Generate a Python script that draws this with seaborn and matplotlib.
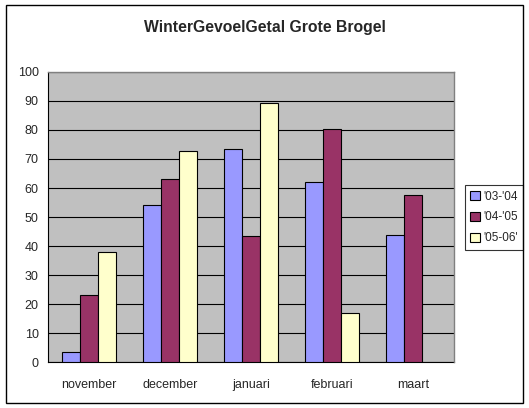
import matplotlib.pyplot as plt
import seaborn as sns
import numpy as np
import pandas as pd
from matplotlib.patches import Rectangle

months = ['november', 'december', 'januari', 'februari', 'maart']
seasons = ["'03-'04", "'04-'05", "'05-06'"]
s0304 = [3.4, 54.2, 73.5, 62.1, 43.9]
s0405 = [23.0, 63.2, 43.6, 80.3, 57.7]
s0506 = [38.1, 72.8, 89.2, 17.0, np.nan]
colors = ['#9999FF', '#993366', '#FFFFCC']

df = pd.DataFrame({
    'maand': months * 3,
    'seizoen': [s for s in seasons for _ in months],
    'wgg': s0304 + s0405 + s0506,
})

sns.set_style('white')
plt.rcParams['font.family'] = ['Liberation Sans', 'DejaVu Sans']

fig = plt.figure(figsize=(5.29, 4.08), dpi=100)
ax = fig.add_axes([0.0915, 0.112, 0.766, 0.712])
ax.set_facecolor('#C0C0C0')

sns.barplot(data=df, x='maand', y='wgg', hue='seizoen', order=months,
            hue_order=seasons, palette=colors, saturation=1, width=0.675, gap=0,
            edgecolor='black', linewidth=0.8, errorbar=None, ax=ax, zorder=3)

ax.set_ylim(0, 100)
ax.set_xlim(-0.5, 4.5)
ax.set_yticks(np.arange(0, 101, 10))
ax.yaxis.grid(True, color='black', linewidth=0.8, zorder=0)
ax.set_axisbelow(True)
ax.set_xlabel('')
ax.set_ylabel('')

# Excel style: tick marks between categories
ax.set_xticks(np.arange(-0.5, 5, 1), minor=True)
ax.tick_params(axis='x', which='major', length=0, pad=12, labelsize=9)
ax.tick_params(axis='x', which='minor', length=6, direction='out', width=0.8, color='black')
ax.tick_params(axis='y', length=5, direction='out', width=0.8, color='black', labelsize=9, pad=2)

for side in ['top', 'right']:
    ax.spines[side].set_color('#808080')
    ax.spines[side].set_linewidth(1)
    ax.spines[side].set_zorder(4)
for side in ['left', 'bottom']:
    ax.spines[side].set_color('black')
    ax.spines[side].set_linewidth(0.8)

fig.text(0.5, 0.932, 'WinterGevoelGetal Grote Brogel', ha='center', va='center',
         fontsize=11.3, fontweight='bold')

handles, labels = ax.get_legend_handles_labels()
leg = ax.legend(handles, labels, loc='center left', bbox_to_anchor=(0.879, 0.467),
                bbox_transform=fig.transFigure, frameon=True, fancybox=False,
                fontsize=8.5, handlelength=0.8, handleheight=0.8, handletextpad=0.3,
                labelspacing=0.75, borderpad=0.45, borderaxespad=0)
leg.get_frame().set_edgecolor('black')
leg.get_frame().set_linewidth(0.8)

fig.add_artist(Rectangle((0.011, 0.013), 0.977, 0.975, transform=fig.transFigure,
                         fill=False, edgecolor='black', linewidth=1))

fig.savefig('out.png', dpi=100)
